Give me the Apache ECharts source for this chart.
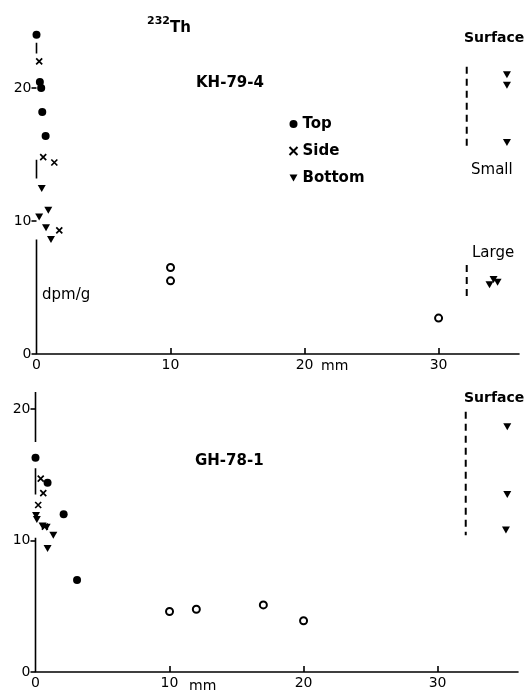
<!DOCTYPE html>
<html>
<head>
<meta charset="utf-8">
<script src="https://cdn.jsdelivr.net/npm/echarts@6/dist/echarts.min.js"></script>
<style>html,body{margin:0;padding:0;background:#fff;}#c{width:524px;height:695px;}</style>
</head>
<body>
<div id="c"></div>
<script>
// ---- data (mm, dpm/g) ----
// KH-79-4 (upper panel)
var khTop = [[0.0,24.0],[0.25,20.45],[0.35,20.0],[0.43,18.2],[0.68,16.4]];
var khSide = [[0.2,22.0],[0.5,14.8],[1.33,14.4],[1.7,9.3]];
var khBottom = [[0.39,12.45],[0.2,10.3],[0.88,10.8],[0.71,9.5],[1.08,8.6]];
var khOpen = [[10,6.5],[10,5.5],[30,2.7]];
var khSurfSmall = [[35.1,21.0],[35.1,20.2],[35.1,15.9]];
var khSurfLarge = [[33.8,5.2],[34.1,5.6],[34.4,5.4]];
var khSmallDash = [[32.1,21.6],[32.1,15.3]];
var khLargeDash = [[32.1,6.7],[32.1,4.2]];
var khAxisSegs = [[[0,0],[0,8.6]],[[0,13.2],[0,14.6]],[[0,22.6],[0,23.4]]];
// GH-78-1 (lower panel)
var ghTop = [[0.0,16.3],[0.9,14.4],[2.1,12.0],[3.1,7.0]];
var ghSide = [[0.39,14.7],[0.58,13.6],[0.2,12.7],[0.7,11.05]];
var ghBottom = [[0.04,11.9],[0.1,11.6],[0.53,11.1],[0.83,11.0],[1.33,10.4],[0.9,9.4]];
var ghOpen = [[10,4.6],[12,4.77],[17,5.1],[20,3.9]];
var ghSurf = [[35.2,18.65],[35.2,13.5],[35.1,10.8]];
var ghDash = [[32.1,19.8],[32.1,10.4]];
var ghAxisSegs = [[[0,0],[0,10.2]],[[0,13.5],[0,15.5]],[[0,17.5],[0,21.3]]];
// ticks
var xTickLabels = [0,10,20,30];
var xTicks = [10,20,30];
var yTickLabels = [0,10,20];

var FONT = 'DejaVu Sans';
var K = '#000';
var triPath = 'path://M0,0 L10,0 L5,9 Z';
var crossPath = 'path://M0,0 L10,10 M10,0 L0,10';

function xAx(gi){
  return {gridIndex:gi,type:'value',min:0,max:36,
    axisLine:{show:true,lineStyle:{color:K,width:1.6}},
    axisTick:{show:true,inside:true,length:6,customValues:xTicks,lineStyle:{color:K,width:1.6}},
    axisLabel:{show:true,customValues:xTickLabels,color:K,fontFamily:FONT,fontSize:14,margin:4},
    splitLine:{show:false}};
}
function yAx(gi,max){
  return {gridIndex:gi,type:'value',min:0,max:max,
    axisLine:{show:false},
    axisTick:{show:true,inside:false,length:5,customValues:yTickLabels,lineStyle:{color:K,width:1.6}},
    axisLabel:{show:true,customValues:yTickLabels,color:K,fontFamily:FONT,fontSize:14,margin:5},
    splitLine:{show:false}};
}
function sc(name,data,gi,kind){
  var s = {type:'scatter',name:name,xAxisIndex:gi,yAxisIndex:gi,data:data,silent:true,z:5};
  if(kind==='top'){s.symbol='circle';s.symbolSize=8;s.itemStyle={color:K,opacity:1};}
  if(kind==='side'){s.symbol=crossPath;s.symbolSize=6;s.itemStyle={color:'none',borderColor:K,borderWidth:1.7,opacity:1};}
  if(kind==='bot'){s.symbol=triPath;s.symbolSize=[8,7];s.itemStyle={color:K,opacity:1};}
  if(kind==='open'){s.symbol='circle';s.symbolSize=7;s.itemStyle={color:'#fff',borderColor:K,borderWidth:2,opacity:1};}
  return s;
}
function ln(data,gi,dashed){
  return {type:'line',xAxisIndex:gi,yAxisIndex:gi,data:data,symbol:'none',silent:true,z:3,
    lineStyle:{color:K,width:dashed?2:1.6,type:dashed?[7,5]:'solid'}};
}
var series = [];
khAxisSegs.forEach(function(s){series.push(ln(s,0,false));});
ghAxisSegs.forEach(function(s){series.push(ln(s,1,false));});
series.push(ln(khSmallDash,0,true));
series.push(ln(khLargeDash,0,true));
series.push(ln(ghDash,1,true));
series.push(sc('Top',khTop,0,'top'));
series.push(sc('Side',khSide,0,'side'));
series.push(sc('Bottom',khBottom,0,'bot'));
series.push(sc('',khOpen,0,'open'));
series.push(sc('',khSurfSmall,0,'bot'));
series.push(sc('',khSurfLarge,0,'bot'));
series.push(sc('',ghTop,1,'top'));
series.push(sc('',ghSide,1,'side'));
series.push(sc('',ghBottom,1,'bot'));
series.push(sc('',ghOpen,1,'open'));
series.push(sc('',ghSurf,1,'bot'));

function txt(str,x,y,size,weight){
  return {type:'text',left:x,top:y,style:{text:str,fill:K,font:(weight||'bold')+' '+size+'px "'+FONT+'"'}};
}

var chart = echarts.init(document.getElementById('c'),null,{renderer:'canvas'});
chart.setOption({
  animation:false,
  backgroundColor:'#fff',
  grid:[{left:36.5,right:5,top:21.5,bottom:341},{left:35.5,right:6,top:382.7,bottom:23}],
  xAxis:[xAx(0),xAx(1)],
  yAxis:[yAx(0,25),yAx(1,22)],
  legend:{data:['Top','Side','Bottom'],orient:'vertical',left:282,top:111,itemWidth:8,itemHeight:8,itemGap:11,
    selectedMode:false,textStyle:{color:K,fontFamily:FONT,fontSize:15,fontWeight:'bold',lineHeight:16}},
  series:series,
  graphic:[
    txt('232',147,16,11,'bold'),
    txt('Th',170,21,15,'bold'),
    txt('KH-79-4',196,76,15,'bold'),
    txt('GH-78-1',195,454,15,'bold'),
    txt('dpm/g',42,288,15,'normal'),
    txt('Surface',464,31,14,'bold'),
    txt('Small',471,163,15,'normal'),
    txt('Large',472,246,15,'normal'),
    txt('Surface',464,391,14,'bold'),
    txt('mm',321,359,14,'normal'),
    txt('mm',189,679,14,'normal')
  ]
});
</script>
</body>
</html>
